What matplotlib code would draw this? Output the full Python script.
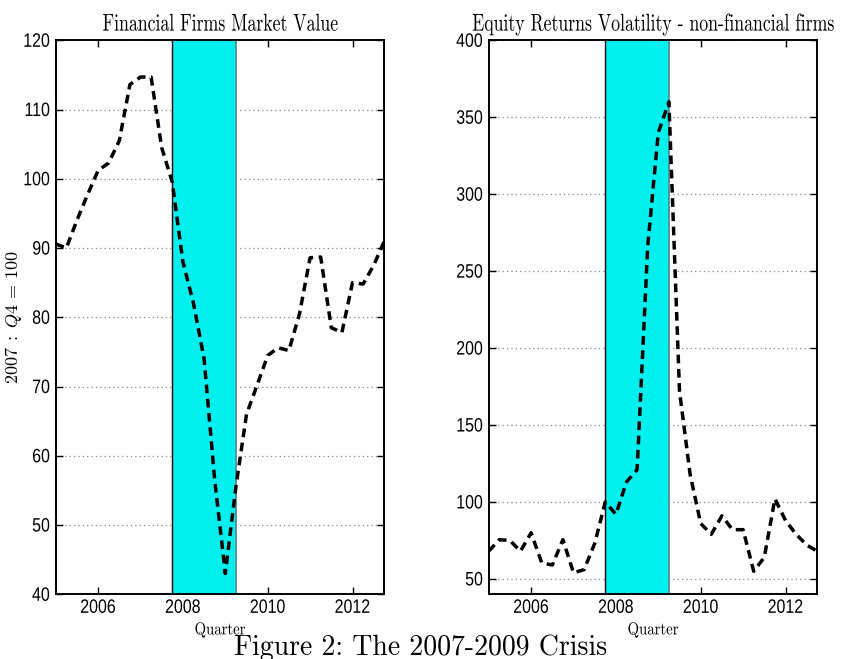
import numpy as np
import matplotlib
matplotlib.use("Agg")
import matplotlib.pyplot as plt
from matplotlib.patheffects import AbstractPathEffect
from matplotlib.transforms import Affine2D

# Quarterly observations, 2005Q1 .. 2012Q4
quarters = [2005 + 0.25 * i for i in range(32)]

# Financial firms market value (2007Q4 = 100)
market_value = [
    90.6, 90.0, 94.0, 97.7, 101.2, 102.3, 105.5, 113.6,
    114.7, 114.7, 104.5, 99.5, 88.0, 82.0, 74.0, 56.5,
    43.0, 55.5, 66.0, 70.2, 74.5, 75.6, 75.2, 80.5,
    88.6, 88.7, 78.5, 77.8, 85.0, 84.8, 87.5, 91.0,
]

# Equity returns volatility of non-financial firms
volatility = [
    68, 75.5, 75, 68, 80, 60.5, 59, 75.5,
    54, 56, 73, 100, 92, 113, 121, 266,
    340, 360, 172, 118, 86, 79, 91, 82,
    82, 55, 64, 102, 88, 79, 72, 68,
]

crisis_start, crisis_end = 2007.75, 2009.25
x_ticks = [2006, 2008, 2010, 2012]
left_yticks = [40, 50, 60, 70, 80, 90, 100, 110, 120]
right_yticks = [50, 100, 150, 200, 250, 300, 350, 400]

titles = ["Financial Firms Market Value",
          "Equity Returns Volatility - non-financial firms"]
xlabel = "Quarter"
left_ylabel = r"$2007 \;:\; Q4 \,=\, 100$"
caption = "Figure 2: The 2007-2009 Crisis"


class Condensed(AbstractPathEffect):
    """Squeeze glyph outlines horizontally around an anchor of the string."""

    def __init__(self, sx=0.75, anchor="center"):
        super().__init__()
        self.sx = sx
        self.anchor = anchor

    def draw_path(self, renderer, gc, tpath, affine, rgbFace=None):
        ext = tpath.get_extents(affine)
        if self.anchor == "right":
            cx = ext.x1
        elif self.anchor == "left":
            cx = ext.x0
        else:
            cx = 0.5 * (ext.x0 + ext.x1)
        squeeze = Affine2D().translate(-cx, 0).scale(self.sx, 1).translate(cx, 0)
        renderer.draw_path(gc, tpath, affine + squeeze, rgbFace)


plt.rcParams["mathtext.fontset"] = "cm"
plt.rcParams["axes.unicode_minus"] = False

W, H = 842, 659
fig = plt.figure(figsize=(W / 100, H / 100), dpi=100)

tick_font = ["Liberation Sans Narrow", "Liberation Sans", "DejaVu Sans"]
serif_font = ["cmr10", "DejaVu Serif"]

axes_px = [(55.7, 384.3), (488.7, 817.3)]
top_px, bottom_px = 40.3, 594.3

series = [market_value, volatility]
ylims = [(40, 120), (40, 400)]
yticks_all = [left_yticks, right_yticks]

for k in range(2):
    x0, x1 = axes_px[k]
    ax = fig.add_axes([x0 / W, 1 - bottom_px / H, (x1 - x0) / W,
                       (bottom_px - top_px) / H])
    ax.set_xlim(quarters[0], quarters[-1])
    ax.set_ylim(*ylims[k])
    ax.set_xticks(x_ticks)
    ax.set_yticks(yticks_all[k])

    # horizontal dotted grid only
    for yv in yticks_all[k]:
        ax.axhline(yv, color="#888888", lw=0.9, ls=(0, (1, 2.5)), zorder=1)

    ax.axvspan(crisis_start, crisis_end, facecolor="#00F0F0",
               edgecolor="none", zorder=2)
    ax.axvline(crisis_start, color="black", lw=1.0, zorder=2.5)
    ax.axvline(crisis_end, color="#4f8f93", lw=1.3, zorder=2.5)

    ax.plot(quarters, series[k], color="black", lw=2.5,
            ls=(0, (2.5, 1.6)), zorder=3)

    for sp in ax.spines.values():
        sp.set_linewidth(1.4)
        sp.set_zorder(4)
    ax.tick_params(direction="in", length=5, width=1.0, top=True,
                   right=True, pad=4)
    for lab in ax.get_xticklabels():
        lab.set_fontfamily(tick_font)
        lab.set_fontsize(14)
        lab.set_path_effects([Condensed(0.82, "center")])
    for lab in ax.get_yticklabels():
        lab.set_fontfamily(tick_font)
        lab.set_fontsize(14)
        lab.set_path_effects([Condensed(0.82, "right")])

    ax.set_title(titles[k], fontfamily=serif_font, fontsize=17.5, pad=7,
                 path_effects=[Condensed(0.73, "center")])
    ax.set_xlabel(xlabel, fontfamily=serif_font, fontsize=12.5,
                  path_effects=[Condensed(0.85, "center")])
    ax.xaxis.set_label_coords(0.5, -(622 - bottom_px) / (bottom_px - top_px))
    if k == 0:
        ax.set_ylabel(left_ylabel, fontsize=13)
        ax.yaxis.set_label_coords(-(x0 - 24) / (x1 - x0), 0.5)

fig.text(0.5, 1 - 655 / H, caption, ha="center", va="baseline",
         fontfamily=serif_font, fontsize=20)

fig.savefig("out.png", dpi=100)
